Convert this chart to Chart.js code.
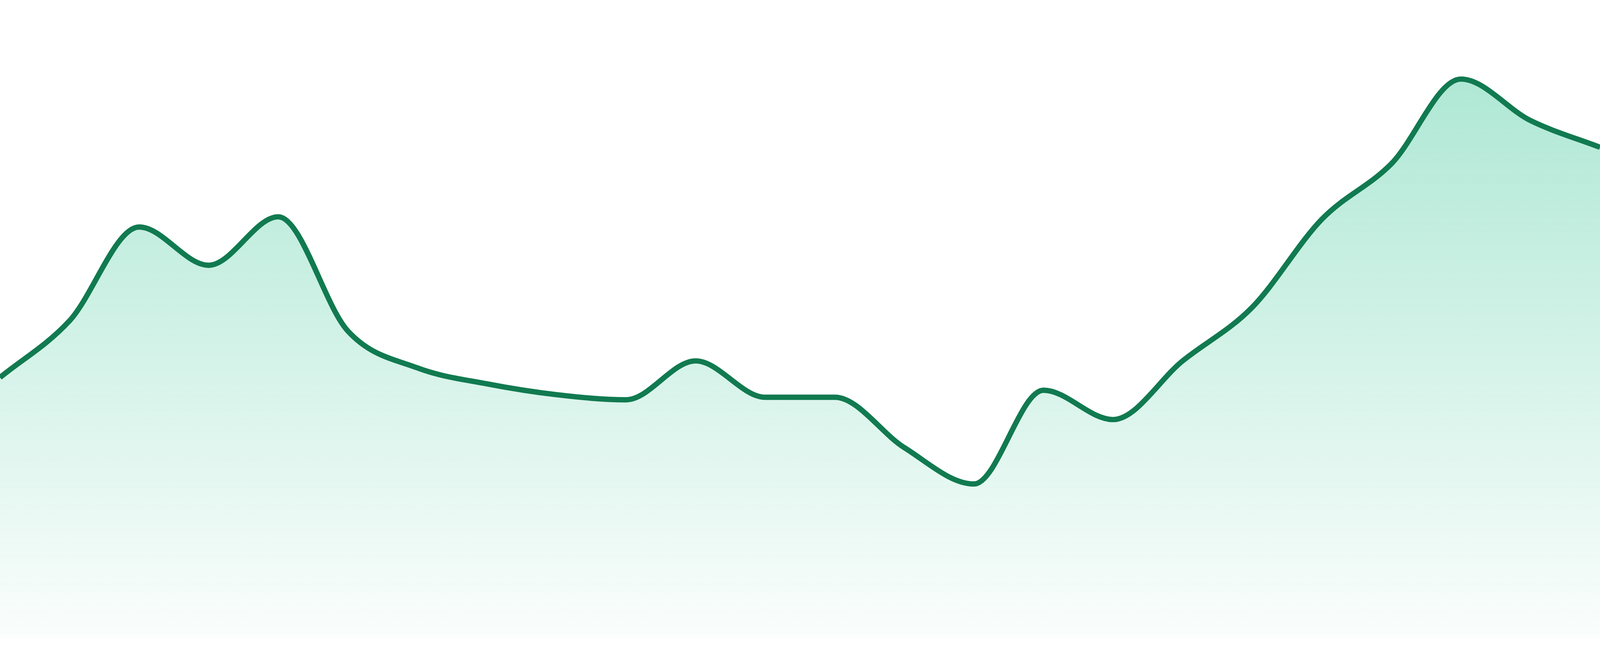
<!DOCTYPE html>
<html>
<head>
<meta charset="utf-8">
<script src="https://cdn.jsdelivr.net/npm/chart.js@4.4.1/dist/chart.umd.min.js"></script>
<style>
    html, body { margin: 0; padding: 0; background: #ffffff; overflow: hidden; }
    #wrap { position: relative; width: 100vw; height: calc(100vh * 1633 / 1680); }
    #wrap canvas { display: block; }
</style>
</head>
<body>
<div id="wrap"><canvas id="areaChart"></canvas></div>
<script>
// one point per period
const labels = ['1', '2', '3', '4', '5', '6', '7', '8', '9', '10', '11', '12',
                '13', '14', '15', '16', '17', '18', '19', '20', '21', '22', '23', '24'];
const values = [40.8, 49.7, 64.4, 58.4, 66.0, 48.1, 42.3, 39.8, 38.1, 37.3, 43.4, 37.7,
                37.7, 29.8, 24.1, 38.8, 34.2, 43.4, 51.8, 65.6, 74.3, 87.6, 81.1, 76.9];
const yMin = 0;
const yMax = 100;

const lineColor = '#117a50';
// the picture is 4800px wide; keep the stroke the same on screen whatever the css width is
const pxScale = window.innerWidth / 4800;

function areaGradient(context) {
    const chart = context.chart;
    const { ctx, chartArea } = chart;
    if (!chartArea) return 'rgba(16, 185, 129, 0.2)';
    const g = ctx.createLinearGradient(0, chartArea.top, 0, chartArea.bottom);
    g.addColorStop(0, 'rgba(16, 185, 129, 0.38)');
    g.addColorStop(1, 'rgba(16, 185, 129, 0.02)');
    return g;
}

document.addEventListener('DOMContentLoaded', () => {
    const ctx = document.getElementById('areaChart').getContext('2d');
    new Chart(ctx, {
        type: 'line',
        data: {
            labels: labels,
            datasets: [{
                data: values,
                borderColor: lineColor,
                borderWidth: 16 * pxScale,
                backgroundColor: areaGradient,
                fill: 'start',
                cubicInterpolationMode: 'monotone',
                pointRadius: 0,
                pointHoverRadius: 0
            }]
        },
        options: {
            responsive: true,
            maintainAspectRatio: false,
            animation: false,
            layout: { padding: 0 },
            plugins: { legend: { display: false }, tooltip: { enabled: false } },
            scales: {
                x: { display: false },
                y: { display: false, min: yMin, max: yMax }
            }
        }
    });
});
</script>
</body>
</html>
